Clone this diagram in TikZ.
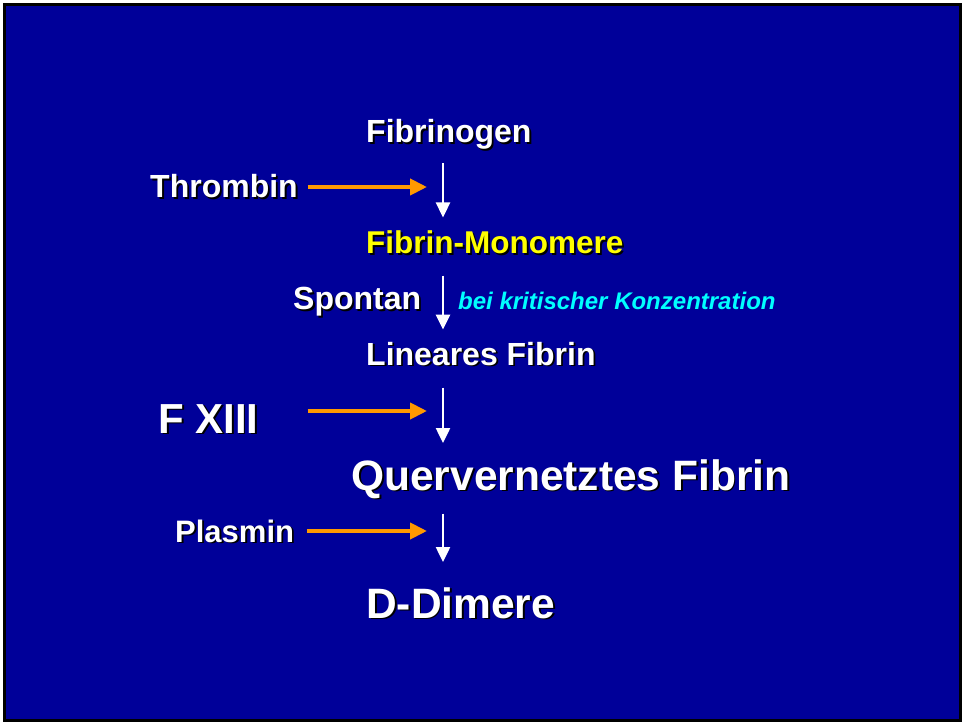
\documentclass[tikz,border=0pt]{standalone}
\usepackage{fontspec}
\setmainfont{Liberation Sans}
\usepackage{tikz}
\usetikzlibrary{arrows.meta,calc}
\definecolor{slideblue}{RGB}{0,0,153}
\definecolor{feedorange}{RGB}{255,153,0}
\definecolor{stageyellow}{RGB}{255,255,0}
\definecolor{notecyan}{RGB}{0,255,255}
\newcommand{\shadowed}[1]{\rlap{\kern1.8pt\raisebox{-1.8pt}[0pt][0pt]{\color{black}#1}}#1}

\begin{document}
\begin{tikzpicture}[
  x=1pt, y=-1pt,
  stage/.style={anchor=base west, inner sep=0pt, text=white,
                font=\bfseries\fontsize{32}{36}\selectfont},
  bigstage/.style={stage, font=\bfseries\fontsize{42.5}{48}\selectfont},
  note/.style={anchor=base west, inner sep=0pt, text=notecyan,
               font=\bfseries\itshape\fontsize{24}{28}\selectfont},
  down/.style={-{Triangle[length=15pt,width=14pt]}, line width=2.5pt, white},
  feed/.style={-{Triangle[length=17pt,width=16pt]}, line width=4pt, feedorange},
]
  % ---- Slide ----
  \fill[white] (0,0) rectangle (962,722);
  \draw[line width=3pt, fill=slideblue] (4.5,4.5) rectangle (960.5,720.5);

  % ---- Stages ----
  \node[stage] (fibrinogen) at (366,143) {\shadowed{Fibrinogen}};
  \node[stage, text=stageyellow, font=\bfseries\fontsize{31.5}{36}\selectfont]
    (monomere) at (366,254) {\shadowed{Fibrin-Monomere}};
  \node[stage] (linear) at (366,365) {\shadowed{Lineares Fibrin}};
  \node[bigstage] (quer) at (351,490) {\shadowed{Quervernetztes Fibrin}};
  \node[bigstage] (ddimere) at (366,618) {\shadowed{D-Dimere}};

  % ---- Agents ----
  \node[stage] (thrombin) at (150,198) {\shadowed{Thrombin}};
  \node[stage] (spontan) at (293,310) {\shadowed{Spontan}};
  \node[note] (kritisch) at (458,309) {bei kritischer Konzentration};
  \node[bigstage, font=\bfseries\fontsize{42}{48}\selectfont] (fxiii) at (158,433) {\shadowed{F XIII}};
  \node[stage, font=\bfseries\fontsize{31}{36}\selectfont] (plasmin) at (175,542) {\shadowed{Plasmin}};

  % ---- Arrows ----
  \coordinate (axis) at (443,0);
  \coordinate (t1) at (427,187);
  \coordinate (t2) at (427,411);
  \coordinate (t3) at (427,531);

  \draw[down] ($(fibrinogen.south -| axis)+(0,13.5)$) -- ($(monomere.north -| axis)+(0,-13.5)$);
  \draw[down] ($(monomere.south -| axis)+(0,21)$) -- ($(linear.north -| axis)+(0,-12)$);
  \draw[down] ($(linear.south -| axis)+(0,22)$) -- ($(quer.north -| axis)+(0,-16)$);
  \draw[down] ($(quer.south -| axis)+(0,15)$) -- ($(ddimere.north -| axis)+(0,-25)$);

  \draw[feed] ($(thrombin.east |- t1)+(10,0)$) -- (t1);
  \draw[feed] ($(fxiii.east |- t2)+(49,0)$) -- (t2);
  \draw[feed] ($(plasmin.east |- t3)+(13,0)$) -- (t3);
\end{tikzpicture}
\end{document}
